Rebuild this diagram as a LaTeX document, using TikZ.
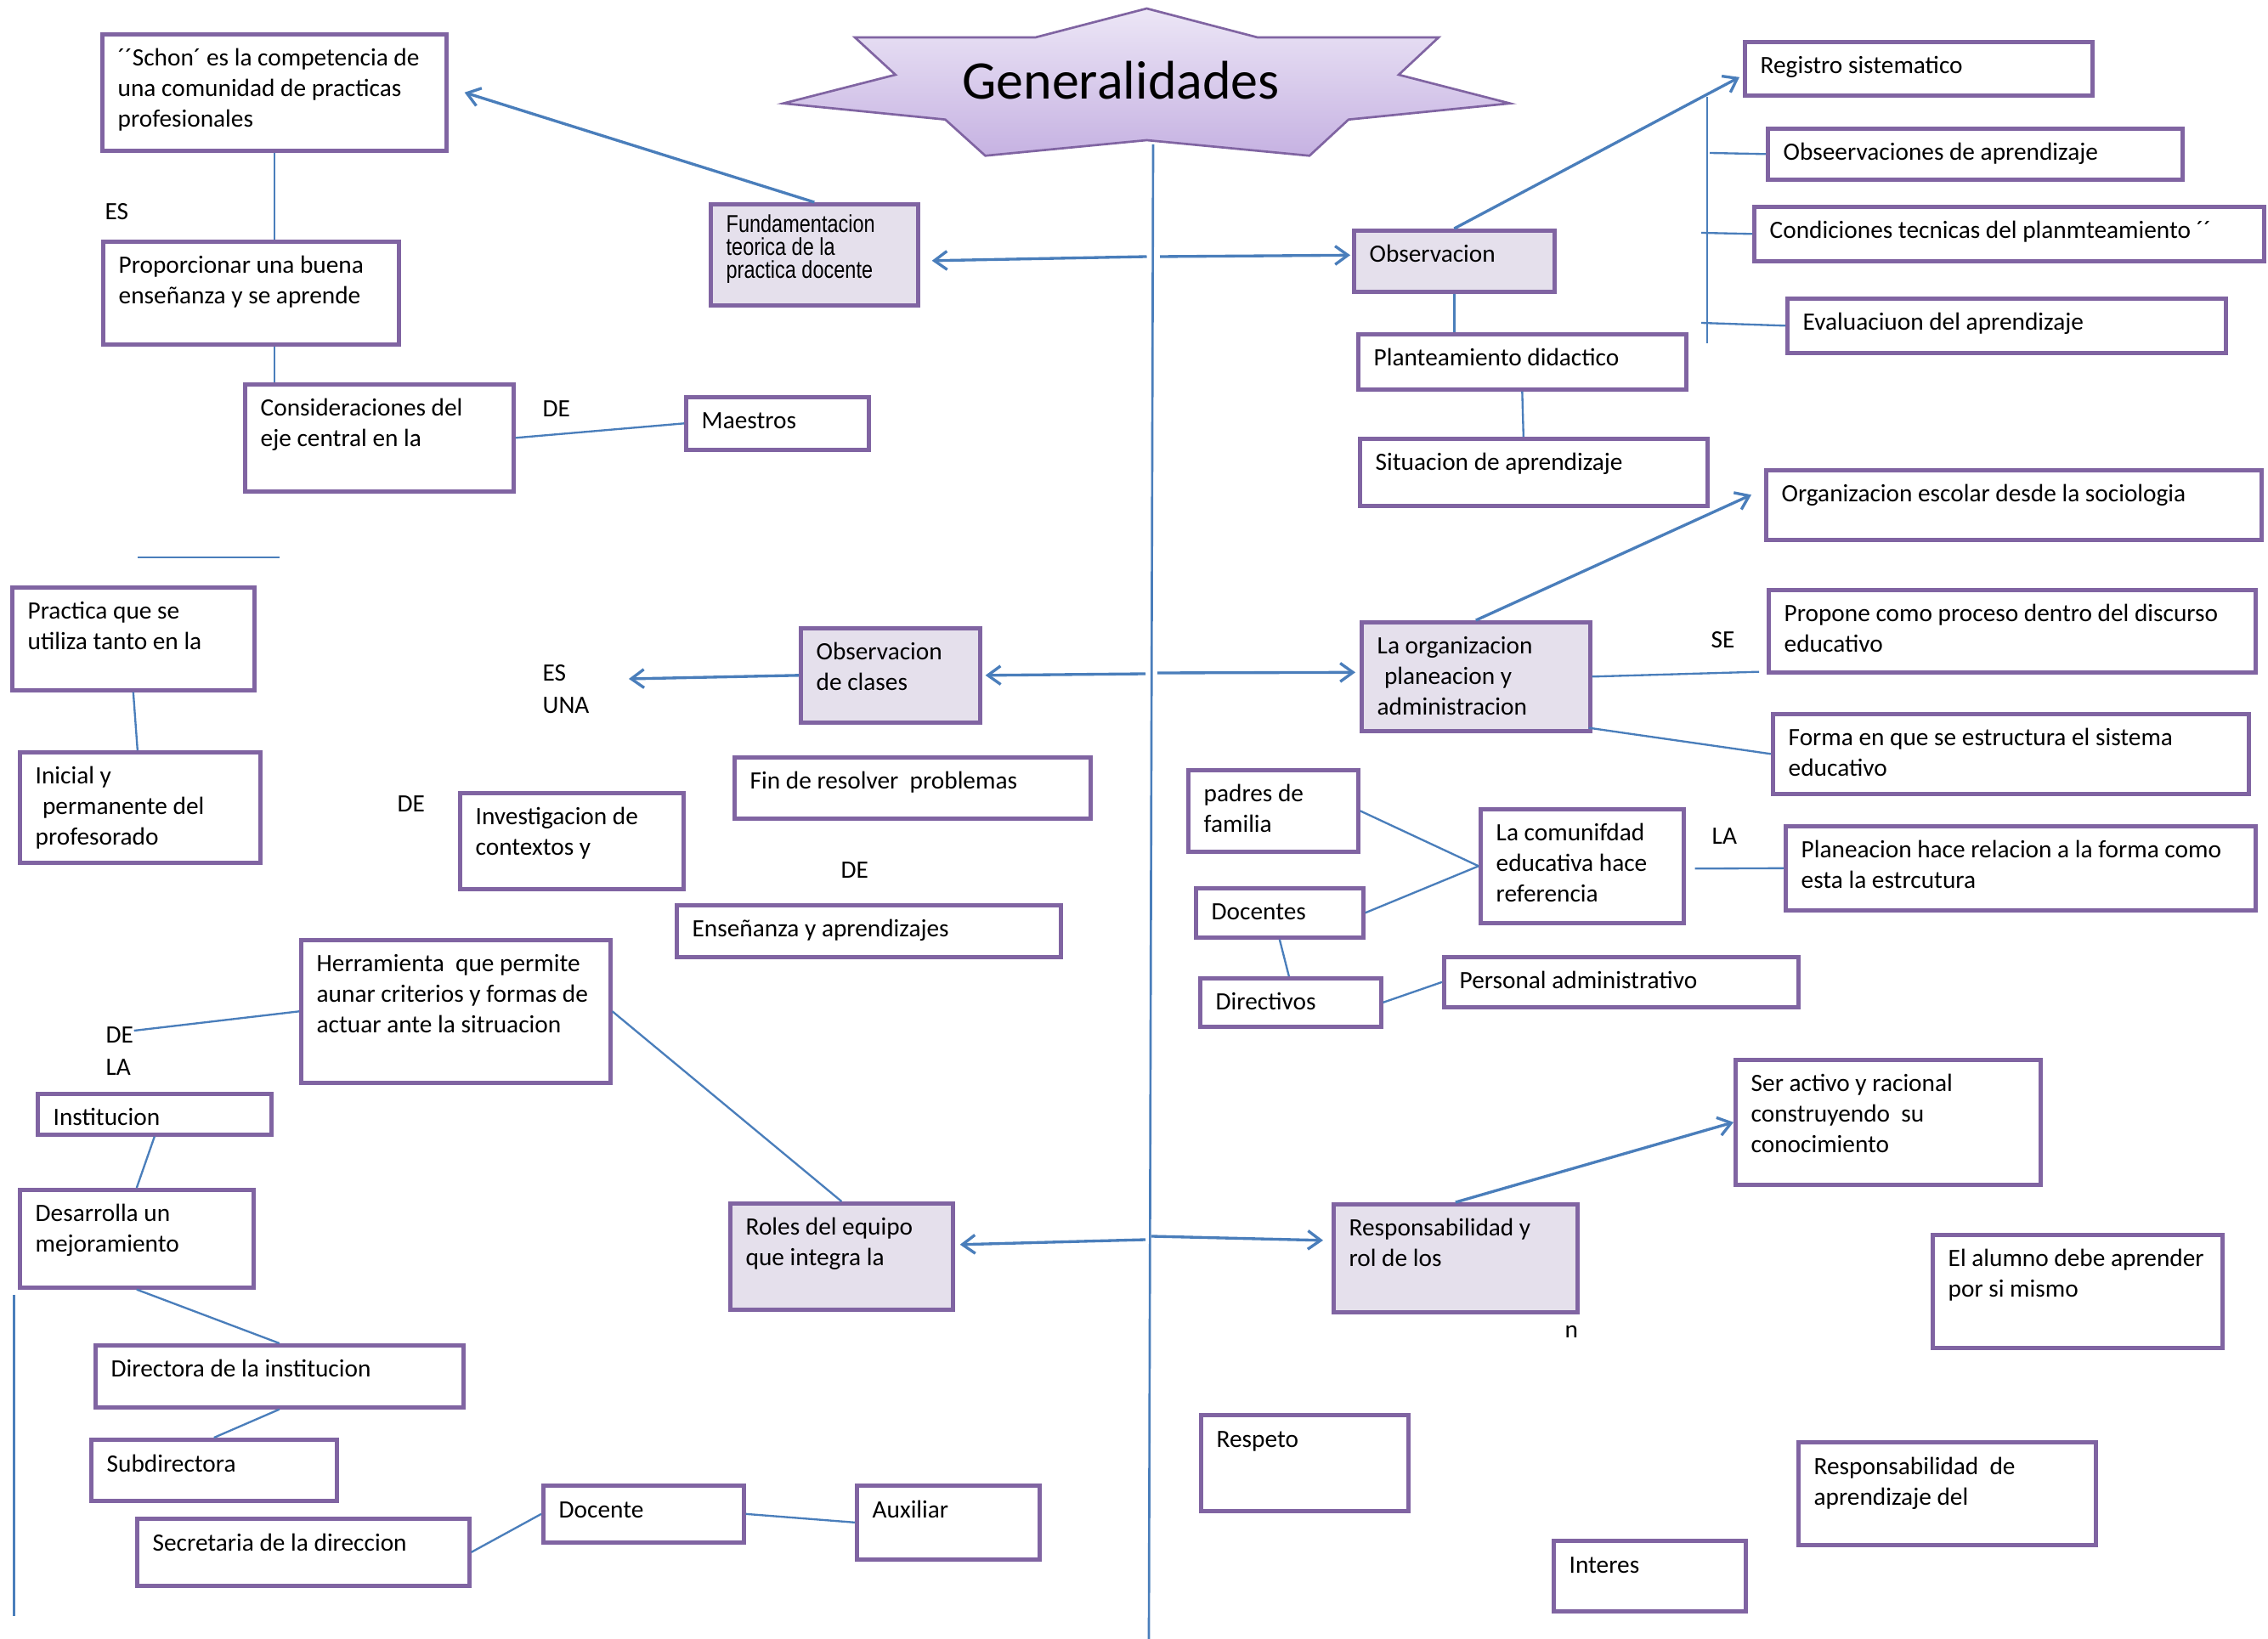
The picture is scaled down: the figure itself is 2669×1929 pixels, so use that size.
\documentclass[tikz,border=0pt]{standalone}
\usepackage{fontspec}
\setmainfont{Carlito}
\newfontfamily\narrowfont{Liberation Sans}[FakeStretch=0.82]
\usetikzlibrary{calc,arrows.meta}
\definecolor{bpurple}{HTML}{8064A2}
\definecolor{lblue}{HTML}{4A7EBB}
\definecolor{bfill}{HTML}{E5E0EC}
\definecolor{startop}{HTML}{ECE6F6}
\definecolor{starbot}{HTML}{C6B2E2}
\newcommand\bodyfont{\fontsize{8.8pt}{10.8pt}\selectfont}
\newcommand\ml[1]{\vtop{\let\\\cr\halign{##\hfil\cr#1\crcr}}}
\tikzset{
 box/.style={rectangle, draw=bpurple, line width=1.4pt, anchor=north west, inner sep=0pt},
 hl/.style={fill=bfill},
 txt/.style={anchor=base west, inner sep=0pt, font=\bodyfont},
 lbl/.style={anchor=west, inner sep=0pt, font=\bodyfont},
 conn/.style={draw=lblue, line width=0.7pt},
 arr/.style={draw=lblue, line width=1pt, -{Straight Barb[length=4.5pt,width=6.5pt]}},
}
\newcommand\bx[7][]{%
 \pgfmathsetmacro\bxw{(#5-#3)*0.3}%
 \pgfmathsetmacro\bxh{(#6-#4)*0.3}%
 \node[box,#1,minimum width=\bxw pt,minimum height=\bxh pt] (#2) at (#3,#4) {};
 \node[txt] (#2t) at ($(#2.north west)+(20,40)$) {\ml{#7}};}
\begin{document}
\begin{tikzpicture}[x=0.3pt,y=-0.3pt]
\fill[white] (0,0) rectangle (2669,1929);
\useasboundingbox (0,0) rectangle (2669,1929);

% central axis
\coordinate (cTop) at (1357,170);
\coordinate (cBot) at (1352,1929);
\draw[conn,line width=0.8pt] (cTop) -- (cBot);

% title star
\shadedraw[top color=startop, bottom color=starbot, draw=bpurple, line width=0.8pt]
 (1349.5,10) -- (1479.8,44) -- (1693,44) -- (1646,88) -- (1777,121.7) -- (1587,140.7)
 -- (1541,183.3) -- (1349.5,165) -- (1159.5,183.3) -- (1112.4,140.7) -- (921.8,121.7)
 -- (1053.8,88) -- (1006,44) -- (1218.6,44) -- cycle;
\node[font=\fontsize{19.2pt}{21pt}\selectfont, anchor=base, inner sep=0pt] (gen) at (1319,117) {Generalidades};

% boxes
\bx{schon}{118}{38}{523}{175}{´´Schon´ es la competencia de\\una comunidad de practicas\\profesionales}
\bx{prop}{119}{282}{467}{403}{Proporcionar una buena\\enseñanza y se aprende}
\bx{cons}{286}{450}{602}{576}{Consideraciones del\\eje central en la}
\bx{maestros}{805}{465}{1020}{527}{Maestros}
\node[box,hl,minimum width=73.2pt,minimum height=35.7pt] (fund) at (834,238) {};
\node[anchor=base west,inner sep=0pt,font=\narrowfont\fontsize{8.6pt}{8.1pt}\selectfont] (fundt) at ($(fund.north west)+(20,36)$) {\ml{Fundamentacion\\teorica de la\\practica docente}};
\bx[hl]{obs}{1591}{269}{1827}{341}{Observacion}
\bx{reg}{2051}{47}{2460}{110}{Registro sistematico}
\bx{obse}{2078}{149}{2566}{209}{Obseervaciones de aprendizaje}
\bx{cond}{2062}{241}{2662}{305}{Condiciones tecnicas del planmteamiento ´´}
\bx{eval}{2101}{349}{2617}{413}{Evaluaciuon del aprendizaje}
\bx{plan}{1596}{391}{1982}{456}{Planteamiento didactico}
\bx{sit}{1598}{514}{2007}{593}{Situacion de aprendizaje}
\bx{orgesc}{2076}{551}{2659}{633}{Organizacion escolar desde la sociologia}
\bx[hl]{laorg}{1600}{730}{1869}{858}{La organizacion\\\kern2.5pt planeacion y\\administracion}
\bx{propone}{2079}{692}{2652}{789}{Propone como proceso dentro del discurso\\educativo}
\bx{forma}{2084}{838}{2644}{932}{Forma en que se estructura el sistema\\educativo}
\bx{padres}{1396}{904}{1596}{1000}{padres de\\familia}
\bx{docentes}{1405}{1043}{1602}{1101}{Docentes}
\bx{directivos}{1410}{1149}{1623}{1206}{Directivos}
\bx{comun}{1740}{950}{1979}{1084}{La comunifdad\\educativa hace\\referencia}
\bx{planea}{2099}{970}{2652}{1069}{Planeacion hace relacion a la forma como\\esta la estrcutura}
\bx{personal}{1697}{1124}{2114}{1183}{Personal administrativo}
\bx{ser}{2040}{1245}{2399}{1392}{Ser activo y racional\\construyendo\ \ su\\conocimiento}
\bx[hl]{resp}{1567}{1415}{1854}{1542}{Responsabilidad y\\rol de los}
\bx{alumno}{2272}{1451}{2613}{1584}{El alumno debe aprender\\por si mismo}
\bx{respeto}{1411}{1663}{1655}{1776}{Respeto}
\bx{respapr}{2114}{1695}{2464}{1816}{Responsabilidad\ \ de\\aprendizaje del}
\bx{interes}{1826}{1811}{2052}{1894}{Interes}
\bx[hl]{obscl}{940}{737}{1151}{848}{Observacion\\de clases}
\bx{practica}{12}{689}{297}{810}{Practica que se\\utiliza tanto en la}
\bx{inicial}{21}{883}{304}{1013}{Inicial y\\\kern2.5pt permanente del\\profesorado}
\bx{invest}{539}{931}{802}{1044}{Investigacion de\\contextos y}
\bx{fin}{862}{889}{1281}{961}{Fin de resolver\ \ problemas}
\bx{ensen}{794}{1063}{1246}{1124}{Enseñanza y aprendizajes}
\bx{herr}{352}{1104}{716}{1272}{Herramienta\ \ que permite\\aunar criterios y formas de\\actuar ante la sitruacion}
\bx{instit}{42}{1285}{317}{1333}{Institucion}
\bx{desarr}{21}{1398}{296}{1513}{Desarrolla un\\mejoramiento}
\bx[hl]{roles}{857}{1414}{1119}{1539}{Roles del equipo\\que integra la}
\bx{directora}{110}{1581}{543}{1654}{Directora de la institucion}
\bx{subdir}{105}{1692}{394}{1764}{Subdirectora}
\bx{secret}{159}{1785}{550}{1864}{Secretaria de la direccion}
\bx{docente}{637}{1746}{873}{1813}{Docente}
\bx{auxiliar}{1006}{1746}{1221}{1833}{Auxiliar}

% labels
\node[lbl] (lblES1) at (123,249) {ES};
\node[lbl] (lblDE1) at (638,481) {DE};
\node[lbl] (lblES2) at (638,792) {ES};
\node[lbl] (lblUNA) at (638,830) {UNA};
\node[lbl] (lblDE2) at (467,946) {DE};
\node[lbl] (lblDE3) at (989,1024) {DE};
\node[lbl] (lblSE) at (2013,753) {SE};
\node[lbl] (lblLA1) at (2014,984) {LA};
\node[lbl] (lblDE4) at (124,1218) {DE};
\node[lbl] (lblLA2) at (124,1256) {LA};
\node[lbl] (lbln) at (1841,1567) {n};

% free coordinates
\coordinate (aFundS) at (1349.5,302);
\coordinate (aObsS) at (1365,302);
\coordinate (aObsclS) at (1348,793);
\coordinate (aLaorgS) at (1362,792);
\coordinate (aRolesS) at (1348,1459);
\coordinate (aRespS) at (1355,1455);
\coordinate (esuna) at (740,799);
\coordinate (br1) at (2009,114);
\coordinate (br2) at (2009,404);
\coordinate (tk1) at (2012,180);
\coordinate (tk2) at (2002,274);
\coordinate (tk3) at (2002,380);
\coordinate (sl1) at (162,656);
\coordinate (sl2) at (329,656);
\coordinate (ll1) at (16.6,1524);
\coordinate (ll2) at (16.6,1902);

% connectors
\draw[arr] (fund.north) -- ($(schon.east)+(19,0)$);
\draw[arr] (aFundS) -- ($(fund.east)+(14,7)$);
\draw[arr] (aObsS) -- ($(obs.west)+(-2,-7)$);
\draw[conn] (schon.south) -- (schon.south |- prop.north);
\draw[conn] (schon.south |- prop.south) -- (schon.south |- cons.north);
\draw[conn] (cons.east) -- (maestros.west);
\draw[arr] (obs.north) -- ($(reg.west)+(-4,10)$);
\draw[conn] (obs.south) -- (obs.south |- plan.north);
\draw[conn] (plan.south) -- ($(sit.north)+(-12,0)$);
\draw[conn] (br1) -- (br2);
\draw[conn] (tk1) -- (obse.west);
\draw[conn] (tk2) -- (cond.west);
\draw[conn] (tk3) -- (eval.west);
\draw[arr] (aLaorgS) -- ($(laorg.west)+(-5,-5)$);
\draw[arr] (laorg.north) -- ($(orgesc.west)+(-15,-12)$);
\draw[conn] (laorg.east) -- ($(propone.south west)+(-9,-3)$);
\draw[conn] ($(laorg.south east)+(-4,-6)$) -- (forma.west);
\draw[arr] (aObsclS) -- ($(obscl.east)+(4,0)$);
\draw[arr] (obscl.west) -- (esuna);
\draw[conn] (practica.south) -- ($(inicial.north)+(-3,0)$);
\draw[conn] (padres.east) -- (comun.west);
\draw[conn] (docentes.east) -- (comun.west);
\draw[conn] ($(comun.east)+(11,3)$) -- (planea.west);
\draw[conn] (docentes.south) -- ($(directivos.north)+(-2,0)$);
\draw[conn] (directivos.east) -- (personal.west);
\draw[arr] (aRespS) -- ($(resp.west)+(-10,-21)$);
\draw[arr] (resp.north) -- (ser.west);
\draw[arr] (aRolesS) -- ($(roles.east)+(6,-14)$);
\draw[conn] (roles.north) -- (herr.east);
\draw[conn] (herr.west) -- ($(lblDE4.east)+(0,-5)$);
\draw[conn] (instit.south) -- (desarr.north);
\draw[conn] (desarr.south) -- (directora.north);
\draw[conn] (directora.south) -- (subdir.north);
\draw[conn] (secret.east) -- (docente.west);
\draw[conn] (docente.east) -- (auxiliar.west);
\draw[conn] (sl1) -- (sl2);
\draw[conn] (ll1) -- (ll2);
\end{tikzpicture}
\end{document}
